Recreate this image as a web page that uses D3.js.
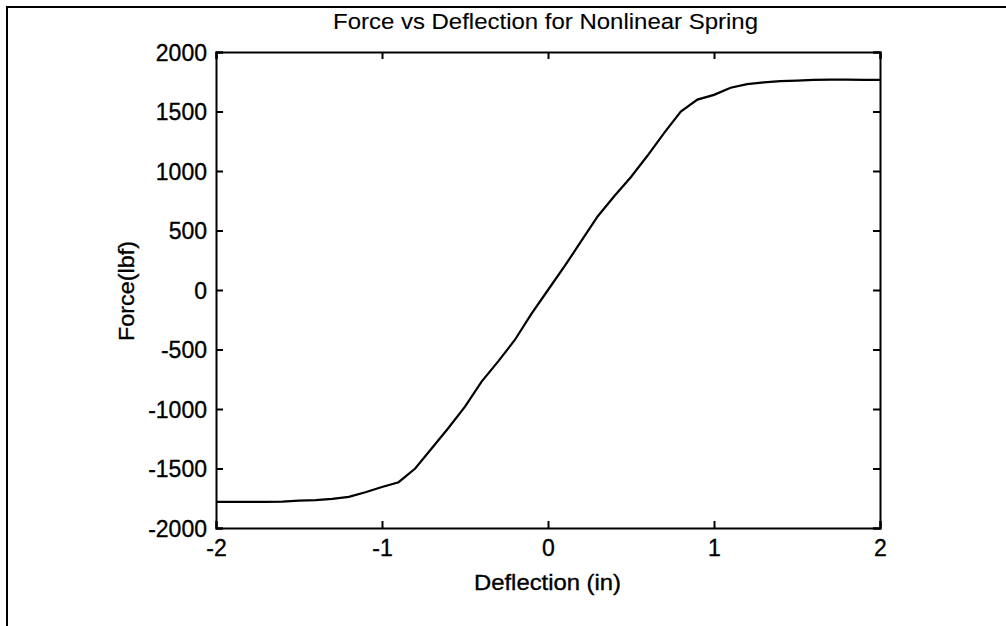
<!DOCTYPE html>
<html lang="en">
<head>
  <meta charset="UTF-8">
  <title>Force vs Deflection</title>
  <style>
    body { margin: 0; background: #fff; overflow: hidden; }
    svg { display: block; }
    text { font-family: Arial, "Liberation Sans", sans-serif; fill: #000; stroke: #000; stroke-width: 0.35px; }
    text.title { stroke-width: 0.1px; }
    .curve { fill: none; stroke: #000; stroke-width: 2.2px; }
    .frame { fill: none; stroke: #000; stroke-width: 2px; }
  </style>
</head>
<body>
  <svg width="1006" height="626"></svg>
  <script src="https://d3js.org/d3.v7.min.js"></script>
  <script>
    // deflection (in) at 0.1 in steps
    const deflection = [-2.0, -1.9, -1.8, -1.7, -1.6, -1.5, -1.4, -1.3, -1.2, -1.1,
      -1.0, -0.9, -0.8, -0.7, -0.6, -0.5, -0.4, -0.3, -0.2, -0.1,
      0.0, 0.1, 0.2, 0.3, 0.4, 0.5, 0.6, 0.7, 0.8, 0.9,
      1.0, 1.1, 1.2, 1.3, 1.4, 1.5, 1.6, 1.7, 1.8, 1.9, 2.0];
    // force (lbf)
    const force = [-1780, -1780, -1780, -1780, -1778, -1770, -1765, -1755, -1738, -1700,
      -1655, -1615, -1500, -1330, -1160, -980, -770, -600, -420, -200,
      0, 200, 410, 620, 790, 950, 1130, 1320, 1500, 1600,
      1640, 1700, 1730, 1745, 1755, 1760, 1765, 1768, 1768, 1766, 1765];

    const xTicks = [-2, -1, 0, 1, 2];
    const yTicks = [-2000, -1500, -1000, -500, 0, 500, 1000, 1500, 2000];

    const svg = d3.select("svg");
    const mLeft = 216, mRight = 880, mTop = 52, mBottom = 528;

    const x = d3.scaleLinear().domain([-2, 2]).range([mLeft, mRight]);
    const y = d3.scaleLinear().domain([-2000, 2000]).range([mBottom, mTop]);

    // plain hyphen minus like the original plot
    const fmt = function(d) { return String(d); };

    // outer figure frame (only top and left edges show)
    svg.append("path")
      .attr("class", "frame")
      .attr("d", "M7,626 L7,7 L1006,7");

    // axes: ticks pointing inward on all four sides
    const tickFont = "23px";
    const gx = svg.append("g")
      .attr("transform", "translate(0," + mBottom + ")")
      .call(d3.axisBottom(x).tickValues(xTicks).tickSize(-7).tickPadding(12).tickFormat(fmt));
    const gxTop = svg.append("g")
      .attr("transform", "translate(0," + mTop + ")")
      .call(d3.axisTop(x).tickValues(xTicks).tickSize(-7).tickFormat(""));
    const gy = svg.append("g")
      .attr("transform", "translate(" + mLeft + ",0)")
      .call(d3.axisLeft(y).tickValues(yTicks).tickSize(-7).tickPadding(9).tickFormat(fmt));
    const gyRight = svg.append("g")
      .attr("transform", "translate(" + mRight + ",0)")
      .call(d3.axisRight(y).tickValues(yTicks).tickSize(-7).tickFormat(""));

    [gx, gxTop, gy, gyRight].forEach(function(g) {
      g.select(".domain").attr("stroke", "#000").attr("stroke-width", 2);
      g.selectAll(".tick line").attr("stroke", "#000").attr("stroke-width", 2);
      g.selectAll(".tick text")
        .attr("font-family", "Arial, 'Liberation Sans', sans-serif")
        .attr("font-size", tickFont)
        .attr("fill", "#000");
    });
    gy.selectAll(".tick text").attr("dy", "0.36em");

    // the curve
    const pts = deflection.map(function(d, i) { return [d, force[i]]; });
    const line = d3.line()
      .x(function(d) { return x(d[0]); })
      .y(function(d) { return y(d[1]); });
    svg.append("path")
      .datum(pts)
      .attr("class", "curve")
      .attr("d", line);

    // titles
    svg.append("text")
      .attr("class", "title")
      .attr("x", 333)
      .attr("y", 29)
      .attr("font-size", "22px")
      .attr("textLength", 425)
      .attr("lengthAdjust", "spacingAndGlyphs")
      .text("Force vs Deflection for Nonlinear Spring");

    svg.append("text")
      .attr("x", 474)
      .attr("y", 590)
      .attr("font-size", "22px")
      .attr("textLength", 147)
      .attr("lengthAdjust", "spacingAndGlyphs")
      .text("Deflection (in)");

    svg.append("text")
      .attr("transform", "translate(134,341) rotate(-90)")
      .attr("font-size", "22px")
      .attr("textLength", 100)
      .attr("lengthAdjust", "spacingAndGlyphs")
      .text("Force(lbf)");
  </script>
</body>
</html>
